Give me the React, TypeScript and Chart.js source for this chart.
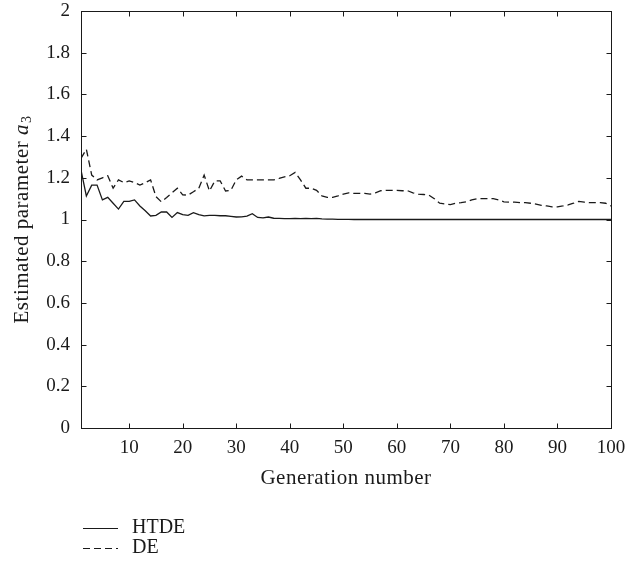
import React, { useEffect, useRef } from "react";
import { Chart, registerables } from "chart.js";

Chart.register(...registerables);

const generations = [
  1, 2, 3, 4, 5, 6, 7, 8, 9, 10, 11, 12, 13, 14, 15, 16, 17, 18, 19, 20,
  21, 22, 23, 24, 25, 26, 27, 28, 29, 30, 31, 32, 33, 34, 35, 36, 37, 38, 39, 40,
  41, 42, 43, 44, 45, 46, 47, 48, 49, 50, 51, 52, 53, 54, 55, 56, 57, 58, 59, 60,
  61, 62, 63, 64, 65, 66, 67, 68, 69, 70, 71, 72, 73, 74, 75, 76, 77, 78, 79, 80,
  81, 82, 83, 84, 85, 86, 87, 88, 89, 90, 91, 92, 93, 94, 95, 96, 97, 98, 99, 100,
];

const htde = [
  1.237, 1.113, 1.165, 1.165, 1.094, 1.106, 1.078, 1.05, 1.087, 1.087,
  1.094, 1.065, 1.042, 1.017, 1.02, 1.036, 1.036, 1.01, 1.033, 1.023,
  1.02, 1.033, 1.023, 1.017, 1.02, 1.02, 1.018, 1.018, 1.015, 1.012,
  1.013, 1.016, 1.028, 1.01, 1.008, 1.012, 1.006, 1.005, 1.004, 1.004,
  1.005, 1.004, 1.005, 1.004, 1.005, 1.003, 1.002, 1.002, 1.001, 1.001,
  1.001, 1.0, 1.001, 1.0, 1.0, 1.001, 1.0, 1.0, 1.0, 1.001,
  1.0, 1.0, 1.0, 1.0, 1.0, 1.0, 1.0, 1.0, 1.0, 1.0,
  1.0, 1.0, 1.0, 1.0, 1.0, 1.0, 1.0, 1.0, 1.0, 1.0,
  1.0, 1.0, 1.0, 1.0, 1.0, 1.0, 1.0, 1.0, 1.0, 1.0,
  1.0, 1.0, 1.0, 1.0, 1.0, 1.0, 1.0, 1.0, 1.0, 1.0,
];

const de = [
  1.293, 1.337, 1.213, 1.19, 1.2, 1.21, 1.15, 1.19, 1.177, 1.185,
  1.177, 1.165, 1.177, 1.19, 1.11, 1.085, 1.106, 1.128, 1.15, 1.118,
  1.117, 1.133, 1.15, 1.213, 1.137, 1.185, 1.185, 1.137, 1.14, 1.19,
  1.208, 1.19, 1.19, 1.19, 1.19, 1.19, 1.19, 1.197, 1.205, 1.21,
  1.226, 1.19, 1.15, 1.15, 1.14, 1.113, 1.106, 1.106, 1.113, 1.122,
  1.128, 1.125, 1.125, 1.125, 1.122, 1.128, 1.138, 1.14, 1.14, 1.14,
  1.138, 1.138, 1.128, 1.122, 1.12, 1.117, 1.1, 1.078, 1.075, 1.071,
  1.078, 1.081, 1.085, 1.094, 1.1, 1.1, 1.1, 1.1, 1.094, 1.085,
  1.083, 1.083, 1.081, 1.081, 1.078, 1.074, 1.068, 1.065, 1.061, 1.061,
  1.065, 1.07, 1.078, 1.087, 1.083, 1.081, 1.081, 1.081, 1.078, 1.065,
];

const xTicks = [10, 20, 30, 40, 50, 60, 70, 80, 90, 100];
const yTicks = [0, 0.2, 0.4, 0.6, 0.8, 1, 1.2, 1.4, 1.6, 1.8, 2];
const seriesLabels = ["HTDE", "DE"];
const xTitle = "Generation number";
const yTitleMain = "Estimated parameter ";
const yTitleVar = "a";
const yTitleSub = "3";

const INK = "#1a1a1a";
const SERIF = "'Liberation Serif', 'Times New Roman', serif";

const decorPlugin = {
  id: "decor",
  afterDraw(chart: any) {
    const { ctx, chartArea: a, scales } = chart;
    ctx.save();
    ctx.strokeStyle = INK;
    ctx.lineWidth = 1;
    ctx.setLineDash([]);
    const L = Math.round(a.left) + 0.5;
    const R = Math.round(a.right) + 0.5;
    const T = Math.round(a.top) + 0.5;
    const B = Math.round(a.bottom) + 0.5;
    ctx.strokeRect(L, T, R - L, B - T);
    const tl = 5;
    ctx.beginPath();
    xTicks.forEach((v) => {
      const x = Math.round(scales.x.getPixelForValue(v)) + 0.5;
      ctx.moveTo(x, B);
      ctx.lineTo(x, B - tl);
      ctx.moveTo(x, T);
      ctx.lineTo(x, T + tl);
    });
    yTicks.forEach((v) => {
      const y = Math.round(scales.y.getPixelForValue(v)) + 0.5;
      ctx.moveTo(L, y);
      ctx.lineTo(L + tl, y);
      ctx.moveTo(R, y);
      ctx.lineTo(R - tl, y);
    });
    ctx.stroke();

    // x title
    ctx.fillStyle = INK;
    ctx.font = `21px ${SERIF}`;
    (ctx as any).letterSpacing = "0.5px";
    ctx.textAlign = "center";
    ctx.textBaseline = "middle";
    ctx.fillText(xTitle, (a.left + a.right) / 2, 478);

    // y title (rotated, with italic variable and subscript)
    ctx.save();
    ctx.translate(22, (a.top + a.bottom) / 2);
    ctx.rotate(-Math.PI / 2);
    ctx.textAlign = "left";
    ctx.textBaseline = "middle";
    const fMain = `21px ${SERIF}`;
    const fVar = `italic 21px ${SERIF}`;
    const fSub = `14px ${SERIF}`;
    ctx.font = fMain;
    const w1 = ctx.measureText(yTitleMain).width;
    ctx.font = fVar;
    const w2 = ctx.measureText(yTitleVar).width;
    ctx.font = fSub;
    const w3 = ctx.measureText(yTitleSub).width;
    let x0 = -(w1 + w2 + w3 + 1) / 2;
    ctx.font = fMain;
    ctx.fillText(yTitleMain, x0, 0);
    x0 += w1;
    ctx.font = fVar;
    ctx.fillText(yTitleVar, x0, 0);
    x0 += w2 + 1;
    ctx.font = fSub;
    ctx.fillText(yTitleSub, x0, 5);
    ctx.restore();
    (ctx as any).letterSpacing = "0px";

    // legend
    const rows = [528, 548];
    chart.data.datasets.forEach((ds: any, i: number) => {
      const y = Math.round(rows[i]) + 0.5;
      ctx.strokeStyle = INK;
      ctx.lineWidth = 1.2;
      ctx.setLineDash(ds.borderDash || []);
      ctx.beginPath();
      ctx.moveTo(83, y);
      ctx.lineTo(118, y);
      ctx.stroke();
      ctx.setLineDash([]);
      ctx.fillStyle = INK;
      ctx.font = `20px ${SERIF}`;
      ctx.textAlign = "left";
      ctx.textBaseline = "middle";
      ctx.fillText(ds.label, 132, rows[i]);
    });
    ctx.restore();
  },
};

export default function App() {
  const canvasRef = useRef<HTMLCanvasElement | null>(null);

  useEffect(() => {
    const canvas = canvasRef.current;
    if (!canvas) return;
    const chart = new Chart(canvas, {
      type: "line",
      data: {
        datasets: [
          {
            label: seriesLabels[0],
            data: generations.map((g, i) => ({ x: g, y: htde[i] })),
            borderColor: INK,
            borderWidth: 1.3,
            pointRadius: 0,
            tension: 0,
            fill: false,
          },
          {
            label: seriesLabels[1],
            data: generations.map((g, i) => ({ x: g, y: de[i] })),
            borderColor: INK,
            borderWidth: 1.3,
            borderDash: [7, 4],
            pointRadius: 0,
            tension: 0,
            fill: false,
          },
        ],
      },
      options: {
        responsive: false,
        maintainAspectRatio: false,
        animation: false,
        devicePixelRatio: 1,
        layout: { padding: { top: 11, right: 14, left: 0, bottom: 0 } },
        plugins: {
          legend: { display: false },
          tooltip: { enabled: false },
        },
        scales: {
          x: {
            type: "linear",
            min: 1,
            max: 100,
            grid: { display: false, drawTicks: false, tickLength: 0 },
            border: { display: false },
            afterBuildTicks: (scale: any) => {
              scale.ticks = xTicks.map((v) => ({ value: v }));
            },
            afterFit: (scale: any) => {
              scale.height = 139;
              scale.paddingLeft = 0;
              scale.paddingRight = 0;
            },
            ticks: {
              autoSkip: false,
              maxRotation: 0,
              padding: 9,
              color: INK,
              font: { family: SERIF, size: 19 },
              callback: (v: any) => String(v),
            },
          },
          y: {
            type: "linear",
            min: 0,
            max: 2,
            grid: { display: false, drawTicks: false, tickLength: 0 },
            border: { display: false },
            afterBuildTicks: (scale: any) => {
              scale.ticks = yTicks.map((v) => ({ value: v }));
            },
            afterFit: (scale: any) => {
              scale.width = 81;
              scale.paddingTop = 0;
              scale.paddingBottom = 0;
            },
            ticks: {
              autoSkip: false,
              padding: 11,
              color: INK,
              font: { family: SERIF, size: 19 },
              callback: (v: any) => String(Number(Number(v).toFixed(1))),
            },
          },
        },
      },
      plugins: [decorPlugin],
    });
    return () => chart.destroy();
  }, []);

  return (
    <div style={{ position: "absolute", left: 0, top: 0, width: 625, height: 567, background: "#fff" }}>
      <canvas ref={canvasRef} width={625} height={567} style={{ width: 625, height: 567, display: "block" }} />
    </div>
  );
}
